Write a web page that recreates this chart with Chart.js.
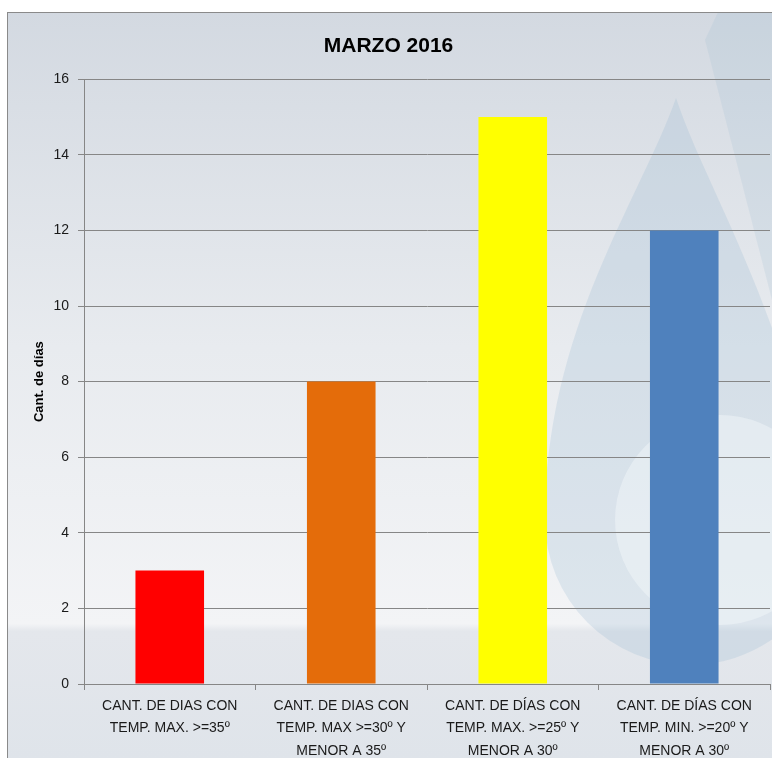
<!DOCTYPE html>
<html lang="es">
<head>
    <meta charset="UTF-8">
    <title>Marzo 2016</title>
    <style>
        body { margin: 0; background: #fff; }
        #wrap { width: 772px; height: 758px; }
    </style>
</head>
<body>
    <div id="wrap"><canvas id="myChart" width="772" height="758"></canvas></div>
    <script src="https://cdn.jsdelivr.net/npm/chart.js"></script>
    <script>
        const categorias = [
            ['CANT. DE DIAS CON', 'TEMP. MAX. >=35º'],
            ['CANT. DE DIAS CON', 'TEMP. MAX >=30º Y', 'MENOR A 35º'],
            ['CANT. DE DÍAS CON', 'TEMP. MAX. >=25º Y', 'MENOR A 30º'],
            ['CANT. DE DÍAS CON', 'TEMP. MIN. >=20º Y', 'MENOR A 30º']
        ];
        const dias = [3, 8, 15, 12];
        const colores = ['#ff0000', '#e46c0a', '#ffff00', '#4f81bd'];
        const yMin = 0, yMax = 16, yStep = 2;

        const fuente = "'Liberation Sans', Arial, sans-serif";

        // fondo con degradado y la gota de marca de agua
        const fondo = {
            id: 'fondo',
            beforeDraw(chart) {
                const c = chart.ctx;
                c.save();
                c.fillStyle = '#ffffff';
                c.fillRect(0, 0, chart.width, chart.height);
                const g = c.createLinearGradient(0, 12, 0, 758);
                g.addColorStop(0, '#d3d9e1');
                g.addColorStop(0.45, '#e8ebef');
                g.addColorStop(0.82, '#f3f4f6');
                g.addColorStop(0.83, '#e4e7ec');
                g.addColorStop(1, '#dfe4ea');
                c.fillStyle = g;
                c.fillRect(7, 12, 765, 746);

                // franja diagonal arriba a la derecha
                c.fillStyle = 'rgba(160,190,210,0.2)';
                c.beginPath();
                c.moveTo(718, 12);
                c.lineTo(772, 12);
                c.lineTo(772, 300);
                c.lineTo(705, 40);
                c.closePath();
                c.fill();

                // gota
                c.fillStyle = 'rgba(150,185,210,0.24)';
                c.beginPath();
                c.moveTo(676, 98);
                c.bezierCurveTo(640, 200, 545, 330, 545, 520);
                c.arc(690, 520, 145, Math.PI, Math.PI * 2.1, true);
                c.bezierCurveTo(800, 330, 710, 200, 676, 98);
                c.fill();
                c.fillStyle = 'rgba(245,248,250,0.45)';
                c.beginPath();
                c.arc(720, 520, 105, 0, Math.PI * 2);
                c.fill();

                c.strokeStyle = '#8a8a8a';
                c.lineWidth = 1;
                c.strokeRect(7.5, 12.5, 770, 750);
                c.restore();
            }
        };

        new Chart(document.getElementById('myChart'), {
            type: 'bar',
            data: {
                labels: categorias,
                datasets: [{
                    label: 'Cant. de días',
                    data: dias,
                    backgroundColor: colores,
                    borderWidth: 0,
                    categoryPercentage: 1,
                    barPercentage: 0.4
                }]
            },
            options: {
                responsive: false,
                animation: false,
                layout: { padding: { left: 7, top: 12, right: 2, bottom: 0 } },
                plugins: {
                    legend: { display: false },
                    tooltip: { enabled: false },
                    title: {
                        display: true,
                        text: 'MARZO 2016',
                        color: '#000',
                        font: { family: fuente, size: 21, weight: 'bold' },
                        padding: { top: 22, bottom: 20 }
                    }
                },
                scales: {
                    x: {
                        grid: {
                            drawOnChartArea: false,
                            offset: true,
                            color: '#868686',
                            tickLength: 6
                        },
                        border: { color: '#868686' },
                        ticks: {
                            color: '#1a1a1a',
                            padding: 5,
                            maxRotation: 0,
                            autoSkip: false,
                            font: { family: fuente, size: 14, lineHeight: 1.6 }
                        },
                        afterFit(scale) { scale.height = 74; }
                    },
                    y: {
                        min: yMin,
                        max: yMax,
                        grid: { color: '#868686', tickLength: 6 },
                        border: { color: '#868686' },
                        ticks: {
                            stepSize: yStep,
                            color: '#1a1a1a',
                            padding: 9,
                            font: { family: fuente, size: 14 }
                        },
                        title: {
                            display: true,
                            text: 'Cant. de días',
                            color: '#000',
                            font: { family: fuente, size: 13, weight: 'bold' },
                            padding: { top: 25, bottom: 0 }
                        },
                        afterFit(scale) { scale.width = 77; }
                    }
                }
            },
            plugins: [fondo]
        });
    </script>
</body>
</html>
